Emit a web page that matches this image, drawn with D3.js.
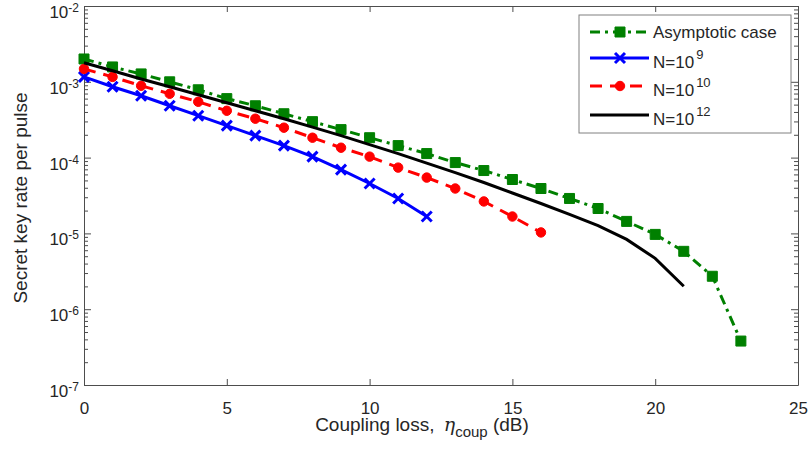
<!DOCTYPE html>
<html>
<head>
<meta charset="utf-8">
<script src="https://cdn.jsdelivr.net/npm/d3@7"></script>
<style>
  body { margin: 0; background: #fff; }
  text { font-family: "Liberation Sans", Arial, sans-serif; fill: #262626; }
  .axis path, .axis line { stroke: #4d4d4d; }
</style>
</head>
<body>
<div id="chart"></div>
<script>
var width = 809
var height = 450
var margin = { left: 84, right: 11, top: 6, bottom: 65 }

// coupling loss (dB) and key rate
var lossAsym = [0, 1, 2, 3, 4, 5, 6, 7, 8, 9, 10, 11, 12, 13, 14, 15, 16, 17, 18, 19, 20, 21, 22, 23]
var rateAsym = [2.0e-3, 1.57e-3, 1.27e-3, 1.0e-3, 7.85e-4, 6.0e-4, 4.83e-4, 3.79e-4, 2.98e-4, 2.34e-4,
  1.83e-4, 1.44e-4, 1.13e-4, 8.6e-5, 6.75e-5, 5.14e-5, 3.91e-5, 2.89e-5, 2.13e-5, 1.44e-5,
  9.7e-6, 5.8e-6, 2.72e-6, 3.8e-7]

var lossN9 = [0, 1, 2, 3, 4, 5, 6, 7, 8, 9, 10, 11, 12]
var rateN9 = [1.16e-3, 8.6e-4, 6.54e-4, 4.83e-4, 3.57e-4, 2.64e-4, 1.95e-4, 1.44e-4, 1.03e-4, 6.95e-5,
  4.55e-5, 2.89e-5, 1.67e-5]

var lossN10 = [0, 1, 2, 3, 4, 5, 6, 7, 8, 9, 10, 11, 12, 13, 14, 15, 16]
var rateN10 = [1.48e-3, 1.16e-3, 8.86e-4, 6.95e-4, 5.45e-4, 4.15e-4, 3.26e-4, 2.48e-4, 1.83e-4, 1.35e-4,
  1.03e-4, 7.38e-5, 5.45e-5, 3.91e-5, 2.64e-5, 1.67e-5, 1.03e-5]

var lossN12 = [0, 1, 2, 3, 4, 5, 6, 7, 8, 9, 10, 11, 12, 13, 14, 15, 16, 17, 18, 19, 20, 21]
var rateN12 = [1.78e-3, 1.40e-3, 1.09e-3, 8.6e-4, 6.75e-4, 5.3e-4, 4.15e-4, 3.26e-4, 2.52e-4, 1.95e-4,
  1.48e-4, 1.13e-4, 8.47e-5, 6.35e-5, 4.69e-5, 3.41e-5, 2.48e-5, 1.78e-5, 1.27e-5, 8.34e-6,
  4.69e-6, 2.01e-6]

var xTicks = [0, 5, 10, 15, 20, 25]
var yExponents = [-7, -6, -5, -4, -3, -2]

var series = [
  { name: "Asymptotic case", sup: "", x: lossAsym, y: rateAsym, color: "#008000", dash: "10,5,3,5", marker: "square" },
  { name: "N=10", sup: "9", x: lossN9, y: rateN9, color: "#0000ff", dash: null, marker: "cross" },
  { name: "N=10", sup: "10", x: lossN10, y: rateN10, color: "#ff0000", dash: "12,8", marker: "circle" },
  { name: "N=10", sup: "12", x: lossN12, y: rateN12, color: "#000000", dash: null, marker: null }
]

var svg = d3.select("#chart")
  .append("svg")
  .attr("width", width)
  .attr("height", height)

var x = d3.scaleLinear()
  .domain([0, 25])
  .range([margin.left, width - margin.right])

var y = d3.scaleLog()
  .domain([1e-7, 1e-2])
  .range([height - margin.bottom, margin.top])

var majors = yExponents.map(function (e) { return Math.pow(10, e) })
var minors = []
yExponents.slice(0, -1).forEach(function (e) {
  for (var m = 2; m <= 9; m++) minors.push(m * Math.pow(10, e))
})

var x0 = x.range()[0], x1 = x.range()[1]
var yb = y.range()[0], yt = y.range()[1]

// box + inward ticks, matlab style
svg.append("g").attr("class", "axis")
  .attr("transform", "translate(0," + yb + ")")
  .call(d3.axisBottom(x).tickValues(xTicks).tickSizeInner(-6).tickSizeOuter(0).tickPadding(17).tickFormat(d3.format("d")))
  .call(function (g) { g.selectAll("text").style("font-size", "17px").attr("fill", "#262626") })

svg.append("g").attr("class", "axis")
  .attr("transform", "translate(0," + yt + ")")
  .call(d3.axisTop(x).tickValues(xTicks).tickSizeInner(-6).tickSizeOuter(0).tickFormat(""))

svg.append("g").attr("class", "axis")
  .attr("transform", "translate(" + x0 + ",0)")
  .call(d3.axisLeft(y).tickValues(majors).tickSizeInner(-7).tickSizeOuter(0).tickFormat(""))
svg.append("g").attr("class", "axis")
  .attr("transform", "translate(" + x0 + ",0)")
  .call(d3.axisLeft(y).tickValues(minors).tickSizeInner(-4).tickSizeOuter(0).tickFormat(""))
  .call(function (g) { g.select(".domain").remove() })

svg.append("g").attr("class", "axis")
  .attr("transform", "translate(" + x1 + ",0)")
  .call(d3.axisRight(y).tickValues(majors).tickSizeInner(-7).tickSizeOuter(0).tickFormat(""))
svg.append("g").attr("class", "axis")
  .attr("transform", "translate(" + x1 + ",0)")
  .call(d3.axisRight(y).tickValues(minors).tickSizeInner(-4).tickSizeOuter(0).tickFormat(""))
  .call(function (g) { g.select(".domain").remove() })

// y tick labels 10^k
var yLab = svg.append("g")
  .selectAll("text")
  .data(yExponents)
  .enter()
  .append("text")
  .attr("x", x0 - 5)
  .attr("y", function (d) { return y(Math.pow(10, d)) + 12 })
  .attr("text-anchor", "end")
  .style("font-size", "17px")
yLab.append("tspan").text("10")
yLab.append("tspan")
  .attr("dy", -6)
  .style("font-size", "12px")
  .text(function (d) { return "-" + Math.abs(d) })

// lines
var line = d3.line()
  .x(function (d) { return x(d[0]) })
  .y(function (d) { return y(d[1]) })

series.forEach(function (s) {
  var pts = d3.zip(s.x, s.y)
  svg.append("path")
    .datum(pts)
    .attr("d", line)
    .attr("fill", "none")
    .attr("stroke", s.color)
    .attr("stroke-width", 3)
    .attr("stroke-dasharray", s.dash)

  if (s.marker) {
    svg.append("g")
      .selectAll("path")
      .data(pts)
      .enter()
      .append("path")
      .attr("transform", function (d) { return "translate(" + x(d[0]) + "," + y(d[1]) + ")" })
      .attr("d", markerPath(s.marker))
      .attr("fill", s.marker == "cross" ? "none" : s.color)
      .attr("stroke", s.color)
      .attr("stroke-width", s.marker == "cross" ? 3 : 1)
  }
})

function markerPath(m) {
  if (m == "square") return "M-5,-5H5V5H-5Z"
  if (m == "circle") return d3.symbol(d3.symbolCircle, 70)()
  return "M-5,-5L5,5M-5,5L5,-5"
}

// legend
var lg = svg.append("g")
lg.append("rect")
  .attr("x", 579).attr("y", 15)
  .attr("width", 212).attr("height", 118)
  .attr("fill", "#fff")
  .attr("stroke", "#808080")

var rowY = [32, 58, 86, 115]
series.forEach(function (s, i) {
  var ry = rowY[i]
  lg.append("line")
    .attr("x1", 590).attr("x2", 649)
    .attr("y1", ry).attr("y2", ry)
    .attr("stroke", s.color)
    .attr("stroke-width", 3)
    .attr("stroke-dasharray", s.dash)
  if (s.marker) {
    lg.append("path")
      .attr("transform", "translate(620," + ry + ")")
      .attr("d", markerPath(s.marker))
      .attr("fill", s.marker == "cross" ? "none" : s.color)
      .attr("stroke", s.color)
      .attr("stroke-width", s.marker == "cross" ? 3 : 1)
  }
  var t = lg.append("text")
    .attr("x", 653)
    .attr("y", ry + (s.sup ? 10 : 6))
    .style("font-size", "17px")
  t.append("tspan").text(s.name)
  if (s.sup) {
    t.append("tspan").attr("dx", 2).attr("dy", -9).style("font-size", "13px").text(s.sup)
  }
})

// axis titles
var xt = svg.append("text")
  .attr("x", 422)
  .attr("y", 431)
  .attr("text-anchor", "middle")
  .style("font-size", "19px")
xt.append("tspan").text("Coupling loss,  ")
xt.append("tspan").attr("dx", 4).style("font-style", "italic").style("font-family", "DejaVu Serif").text("η")
xt.append("tspan").attr("dy", 6).style("font-size", "15px").text("coup")
xt.append("tspan").attr("dy", -6).text(" (dB)")

svg.append("text")
  .attr("transform", "translate(27,198) rotate(-90)")
  .attr("text-anchor", "middle")
  .style("font-size", "19px")
  .text("Secret key rate per pulse")
</script>
</body>
</html>
